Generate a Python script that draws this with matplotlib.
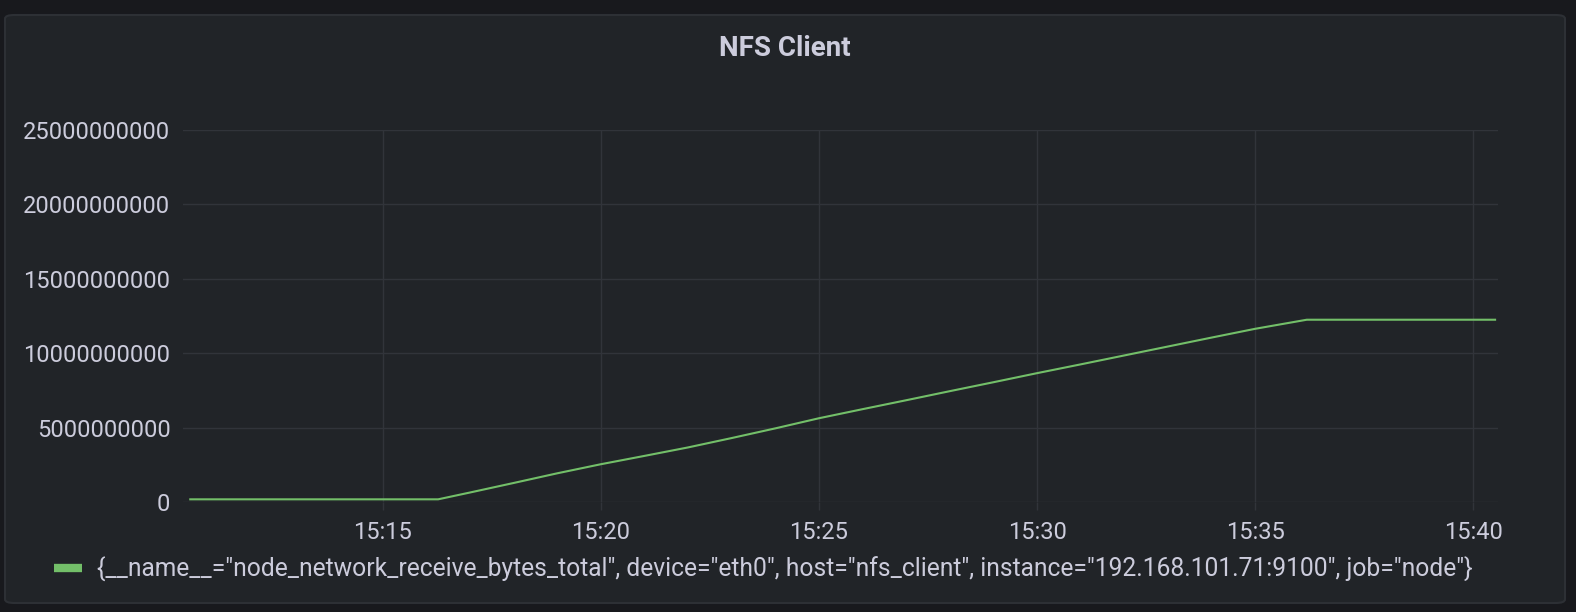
import matplotlib
matplotlib.use("Agg")
import matplotlib.pyplot as plt
import matplotlib.dates as mdates
from matplotlib.patches import FancyBboxPatch
from matplotlib.lines import Line2D
import pandas as pd

# ---- data ----
times = ["15:10:35", "15:16:16", "15:17:00", "15:18:00", "15:19:00", "15:20:00",
         "15:21:00", "15:22:00", "15:23:00", "15:24:00", "15:25:00", "15:26:00",
         "15:27:00", "15:28:00", "15:29:00", "15:30:00", "15:31:00", "15:32:00",
         "15:33:00", "15:34:00", "15:35:00", "15:36:11", "15:40:30"]
values = [0.18e9, 0.18e9, 0.64e9, 1.28e9, 1.93e9, 2.54e9,
          3.10e9, 3.67e9, 4.30e9, 4.95e9, 5.63e9, 6.24e9,
          6.84e9, 7.45e9, 8.05e9, 8.66e9, 9.25e9, 9.85e9,
          10.45e9, 11.05e9, 11.64e9, 12.25e9, 12.25e9]
y_ticks = [0, 5000000000, 10000000000, 15000000000, 20000000000, 25000000000]
x_start, x_end = "15:10:25", "15:40:34"
title = "NFS Client"
series_label = ('{__name__="node_network_receive_bytes_total", device="eth0", '
                'host="nfs_client", instance="192.168.101.71:9100", job="node"}')

day = "2021-01-01 "
t = pd.to_datetime([day + s for s in times])

# ---- style ----
OUTER = "#18191d"
PANEL = "#212428"
BORDER = "#2d3035"
GRID = "#31343a"
TEXT = "#ccccdc"
GREEN = "#73bf69"

plt.rcParams["font.family"] = ["Roboto", "DejaVu Sans"]

W, H = 1576, 612
fig = plt.figure(figsize=(W / 100, H / 100), dpi=100, facecolor=OUTER)

panel = FancyBboxPatch((5 / W, 1 - 603 / H), (1565 - 5) / W, (603 - 15) / H,
                       boxstyle="round,pad=0,rounding_size=0.006",
                       transform=fig.transFigure, facecolor=PANEL,
                       edgecolor=BORDER, linewidth=1.5, zorder=-10)
fig.patches.append(panel)

ax = fig.add_axes([183 / W, 1 - 502 / H, (1498 - 183) / W, (502 - 130) / H])
ax.set_facecolor("none")
ax.set_zorder(1)
for s in ax.spines.values():
    s.set_visible(False)

ax.plot(t, values, color=GREEN, linewidth=1.5, zorder=3)

ax.set_xlim(pd.Timestamp(day + x_start), pd.Timestamp(day + x_end))
ax.set_ylim(0, 25000000000)
ax.set_yticks(y_ticks)
ax.set_yticklabels([str(v) for v in y_ticks])
ax.xaxis.set_major_locator(mdates.MinuteLocator(byminute=range(0, 60, 5)))
ax.xaxis.set_major_formatter(mdates.DateFormatter("%H:%M"))

ax.grid(True, color=GRID, linewidth=1.0, zorder=1)
ax.tick_params(axis="x", colors=GRID, labelcolor=TEXT, labelsize=17,
               length=6, width=1.0, pad=8)
ax.tick_params(axis="y", length=0, labelcolor=TEXT, labelsize=17, pad=9)

fig.text(785 / W, 1 - 48 / H, title, ha="center", va="center",
         fontsize=20, fontweight="bold", color=TEXT)

handle = Line2D([], [], color=GREEN, linewidth=6, solid_capstyle="butt")
leg = fig.legend([handle], [series_label], loc="center left",
                 bbox_to_anchor=(54 / W, 1 - 569 / H),
                 bbox_transform=fig.transFigure, frameon=False,
                 borderpad=0, borderaxespad=0, handlelength=1.15,
                 handletextpad=0.6, fontsize=17.7, labelcolor=TEXT)

fig.savefig("out.png", dpi=100, facecolor=OUTER)
